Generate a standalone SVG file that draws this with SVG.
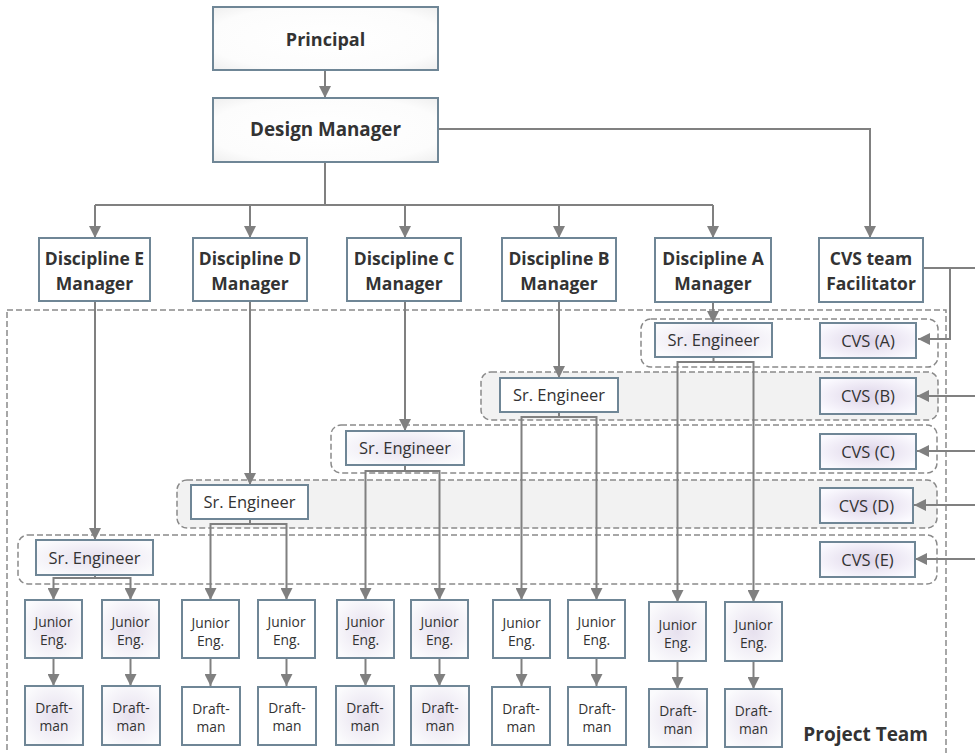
<svg xmlns="http://www.w3.org/2000/svg" width="975" height="753" viewBox="0 0 975 753">
<defs>
<style>
.box{stroke:#6f8696;stroke-width:2;fill:#fff}
.top{fill:url(#gTop)}
.cvs{fill:url(#gCvs)}
.glow{fill:url(#gJr)}
.lane{stroke:#8a8a8a;stroke-width:1.5;stroke-dasharray:6 3}
.w{fill:#fff}
.g{fill:#f2f2f2}
.con{fill:none;stroke:#808080;stroke-width:2}
.arr{marker-end:url(#ah)}
text{font-family:"Open Sans","Noto Sans","DejaVu Sans",sans-serif;fill:#333;text-anchor:middle}
.b18{font-size:18px;font-weight:bold}
.b17{font-size:17.5px;font-weight:bold}
.n16{font-size:16.5px}
.n13{font-size:13.8px}
</style>
<radialGradient id="gTop" cx="50%" cy="50%" r="70%">
<stop offset="0%" stop-color="#ffffff"/><stop offset="75%" stop-color="#fcfcfc"/><stop offset="100%" stop-color="#efefef"/>
</radialGradient>
<radialGradient id="gCvs" cx="50%" cy="50%" r="60%">
<stop offset="0%" stop-color="#ddd4e8"/><stop offset="100%" stop-color="#fbfaff"/>
</radialGradient>
<radialGradient id="gJr" cx="50%" cy="50%" r="60%">
<stop offset="0%" stop-color="#e6e0ee"/><stop offset="100%" stop-color="#fbfbfd"/>
</radialGradient>
<marker id="ah" viewBox="0 0 10 10" refX="10" refY="5" markerWidth="12" markerHeight="12" markerUnits="userSpaceOnUse" orient="auto">
<path d="M0,0 L10,5 L0,10 z" fill="#808080"/>
</marker>
</defs>

<g id="project-team">
<rect x="7" y="310" width="939" height="460" fill="none" class="lane"/>
<text x="928" y="741" class="b18" style="text-anchor:end;font-size:19px">Project Team</text>
</g>

<g id="lanes">
<rect id="lane-a" x="641" y="319" width="297" height="48" rx="10" class="lane w"/>
<rect id="lane-b" x="481" y="372" width="457" height="48" rx="10" class="lane g"/>
<rect id="lane-c" x="331" y="425" width="606" height="48" rx="10" class="lane w"/>
<rect id="lane-d" x="177" y="480" width="760" height="48" rx="10" class="lane g"/>
<rect id="lane-e" x="18" y="535" width="919" height="49" rx="10" class="lane w"/>
</g>

<g id="connectors">
<path class="con arr" d="M325,70 V98"/>
<path class="con arr" d="M438,129 H870 V238"/>
<path class="con" d="M325,162 V205 M95,205 H713"/>
<path class="con arr" d="M95,205 V238"/>
<path class="con arr" d="M250,205 V238"/>
<path class="con arr" d="M405,205 V238"/>
<path class="con arr" d="M559,205 V238"/>
<path class="con arr" d="M713,205 V238"/>
<path class="con" d="M923,268 H980"/>
<path class="con arr" d="M950,268 V339 H918"/>
<path class="con arr" d="M980,396 H917"/>
<path class="con arr" d="M980,451 H917"/>
<path class="con arr" d="M980,505 H914"/>
<path class="con arr" d="M980,559 H915"/>
<path class="con arr" d="M95,301 V540"/>
<path class="con arr" d="M250,301 V485"/>
<path class="con arr" d="M405,301 V431"/>
<path class="con arr" d="M559,301 V378"/>
<path class="con arr" d="M713,302 V323"/>
<path class="con arr" d="M95,575 V578 H53.5 V600"/>
<path class="con arr" d="M95,578 H130.5 V600"/>
<path class="con arr" d="M250,519 V524 H210.5 V600"/>
<path class="con arr" d="M250,524 H286.5 V600"/>
<path class="con arr" d="M405,465 V471 H365.5 V600"/>
<path class="con arr" d="M405,471 H439.5 V600"/>
<path class="con arr" d="M559,412 V417 H521.5 V600"/>
<path class="con arr" d="M559,417 H596.5 V600"/>
<path class="con arr" d="M713.5,357 V362 H677.5 V602"/>
<path class="con arr" d="M713.5,362 H753.5 V602"/>
<path class="con arr" d="M53.5,658 V686"/>
<path class="con arr" d="M130.5,658 V686"/>
<path class="con arr" d="M210.5,658 V686"/>
<path class="con arr" d="M286.5,658 V686"/>
<path class="con arr" d="M365.5,658 V686"/>
<path class="con arr" d="M439.5,658 V686"/>
<path class="con arr" d="M521.5,658 V686"/>
<path class="con arr" d="M596.5,658 V686"/>
<path class="con arr" d="M677.5,661 V689"/>
<path class="con arr" d="M753.5,661 V689"/>
</g>

<g id="principal"><rect x="213" y="7" width="225" height="63" class="box top"/><text x="325.5" y="46" class="b18">Principal</text></g>
<g id="design-manager"><rect x="213" y="98" width="225" height="64" class="box top"/><text x="325.5" y="136" class="b18" style="font-size:18.8px">Design Manager</text></g>

<g id="mgr-e"><rect x="39" y="238" width="111" height="63" class="box"/><text x="94.5" y="265" class="b17">Discipline E</text><text x="94.5" y="290" class="b17">Manager</text></g>
<g id="mgr-d"><rect x="193" y="238" width="114" height="63" class="box"/><text x="250" y="265" class="b17">Discipline D</text><text x="250" y="290" class="b17">Manager</text></g>
<g id="mgr-c"><rect x="347" y="238" width="114" height="63" class="box"/><text x="404" y="265" class="b17">Discipline C</text><text x="404" y="290" class="b17">Manager</text></g>
<g id="mgr-b"><rect x="502" y="238" width="114" height="63" class="box"/><text x="559" y="265" class="b17">Discipline B</text><text x="559" y="290" class="b17">Manager</text></g>
<g id="mgr-a"><rect x="655" y="238" width="116" height="64" class="box"/><text x="713" y="265" class="b17">Discipline A</text><text x="713" y="290" class="b17">Manager</text></g>
<g id="cvs-facilitator"><rect x="819" y="238" width="104" height="64" class="box"/><text x="871" y="265" class="b17">CVS team</text><text x="871" y="290" class="b17">Facilitator</text></g>

<g id="sr-a"><rect x="655" y="323" width="117" height="34" class="box glow"/><text x="713.5" y="346" class="n16">Sr. Engineer</text></g>
<g id="sr-b"><rect x="500" y="378" width="118" height="34" class="box"/><text x="559" y="401" class="n16">Sr. Engineer</text></g>
<g id="sr-c"><rect x="346" y="431" width="118" height="34" class="box glow"/><text x="405" y="454" class="n16">Sr. Engineer</text></g>
<g id="sr-d"><rect x="191" y="485" width="117" height="34" class="box"/><text x="249.5" y="508" class="n16">Sr. Engineer</text></g>
<g id="sr-e"><rect x="36" y="540" width="117" height="35" class="box glow"/><text x="94.5" y="563.5" class="n16">Sr. Engineer</text></g>

<g id="cvs-a"><rect x="820" y="323" width="96" height="35" class="box cvs"/><text x="868" y="346.5" class="n16">CVS (A)</text></g>
<g id="cvs-b"><rect x="820" y="378" width="96" height="36" class="box cvs"/><text x="868" y="402" class="n16">CVS (B)</text></g>
<g id="cvs-c"><rect x="820" y="434" width="96" height="35" class="box cvs"/><text x="868" y="457.5" class="n16">CVS (C)</text></g>
<g id="cvs-d"><rect x="820" y="488" width="93" height="35" class="box cvs"/><text x="866.5" y="511.5" class="n16">CVS (D)</text></g>
<g id="cvs-e"><rect x="820" y="542" width="95" height="35" class="box cvs"/><text x="867.5" y="565.5" class="n16">CVS (E)</text></g>

<g id="jr-1"><rect x="25" y="600" width="57" height="58" class="box glow"/><text x="53.5" y="627" class="n13">Junior</text><text x="53.5" y="645" class="n13">Eng.</text></g>
<g id="jr-2"><rect x="102" y="600" width="57" height="58" class="box glow"/><text x="130.5" y="627" class="n13">Junior</text><text x="130.5" y="645" class="n13">Eng.</text></g>
<g id="jr-3"><rect x="182" y="600" width="57" height="58" class="box"/><text x="210.5" y="628" class="n13">Junior</text><text x="210.5" y="646" class="n13">Eng.</text></g>
<g id="jr-4"><rect x="258" y="600" width="57" height="58" class="box"/><text x="286.5" y="627" class="n13">Junior</text><text x="286.5" y="645" class="n13">Eng.</text></g>
<g id="jr-5"><rect x="337" y="600" width="57" height="58" class="box glow"/><text x="365.5" y="627" class="n13">Junior</text><text x="365.5" y="645" class="n13">Eng.</text></g>
<g id="jr-6"><rect x="411" y="600" width="57" height="58" class="box glow"/><text x="439.5" y="627" class="n13">Junior</text><text x="439.5" y="645" class="n13">Eng.</text></g>
<g id="jr-7"><rect x="493" y="600" width="57" height="58" class="box"/><text x="521.5" y="628" class="n13">Junior</text><text x="521.5" y="646" class="n13">Eng.</text></g>
<g id="jr-8"><rect x="568" y="600" width="57" height="58" class="box"/><text x="596.5" y="627" class="n13">Junior</text><text x="596.5" y="645" class="n13">Eng.</text></g>
<g id="jr-9"><rect x="649" y="602" width="57" height="59" class="box glow"/><text x="677.5" y="630" class="n13">Junior</text><text x="677.5" y="648" class="n13">Eng.</text></g>
<g id="jr-10"><rect x="725" y="602" width="57" height="59" class="box glow"/><text x="753.5" y="630" class="n13">Junior</text><text x="753.5" y="648" class="n13">Eng.</text></g>

<g id="dm-1"><rect x="25" y="686" width="58" height="59" class="box glow"/><text x="54" y="713" class="n13">Draft-</text><text x="54" y="731" class="n13">man</text></g>
<g id="dm-2"><rect x="102" y="686" width="58" height="59" class="box glow"/><text x="131" y="713" class="n13">Draft-</text><text x="131" y="731" class="n13">man</text></g>
<g id="dm-3"><rect x="182" y="687" width="58" height="58" class="box"/><text x="211" y="714" class="n13">Draft-</text><text x="211" y="732" class="n13">man</text></g>
<g id="dm-4"><rect x="258" y="687" width="58" height="58" class="box"/><text x="287" y="713" class="n13">Draft-</text><text x="287" y="731" class="n13">man</text></g>
<g id="dm-5"><rect x="336" y="686" width="58" height="59" class="box glow"/><text x="365" y="713" class="n13">Draft-</text><text x="365" y="731" class="n13">man</text></g>
<g id="dm-6"><rect x="411" y="686" width="58" height="59" class="box glow"/><text x="440" y="713" class="n13">Draft-</text><text x="440" y="731" class="n13">man</text></g>
<g id="dm-7"><rect x="492" y="687" width="58" height="58" class="box"/><text x="521" y="714" class="n13">Draft-</text><text x="521" y="732" class="n13">man</text></g>
<g id="dm-8"><rect x="568" y="687" width="58" height="58" class="box"/><text x="597" y="714" class="n13">Draft-</text><text x="597" y="732" class="n13">man</text></g>
<g id="dm-9"><rect x="649" y="689" width="58" height="58" class="box glow"/><text x="678" y="716" class="n13">Draft-</text><text x="678" y="734" class="n13">man</text></g>
<g id="dm-10"><rect x="725" y="689" width="57" height="58" class="box glow"/><text x="753.5" y="716" class="n13">Draft-</text><text x="753.5" y="734" class="n13">man</text></g>
</svg>
